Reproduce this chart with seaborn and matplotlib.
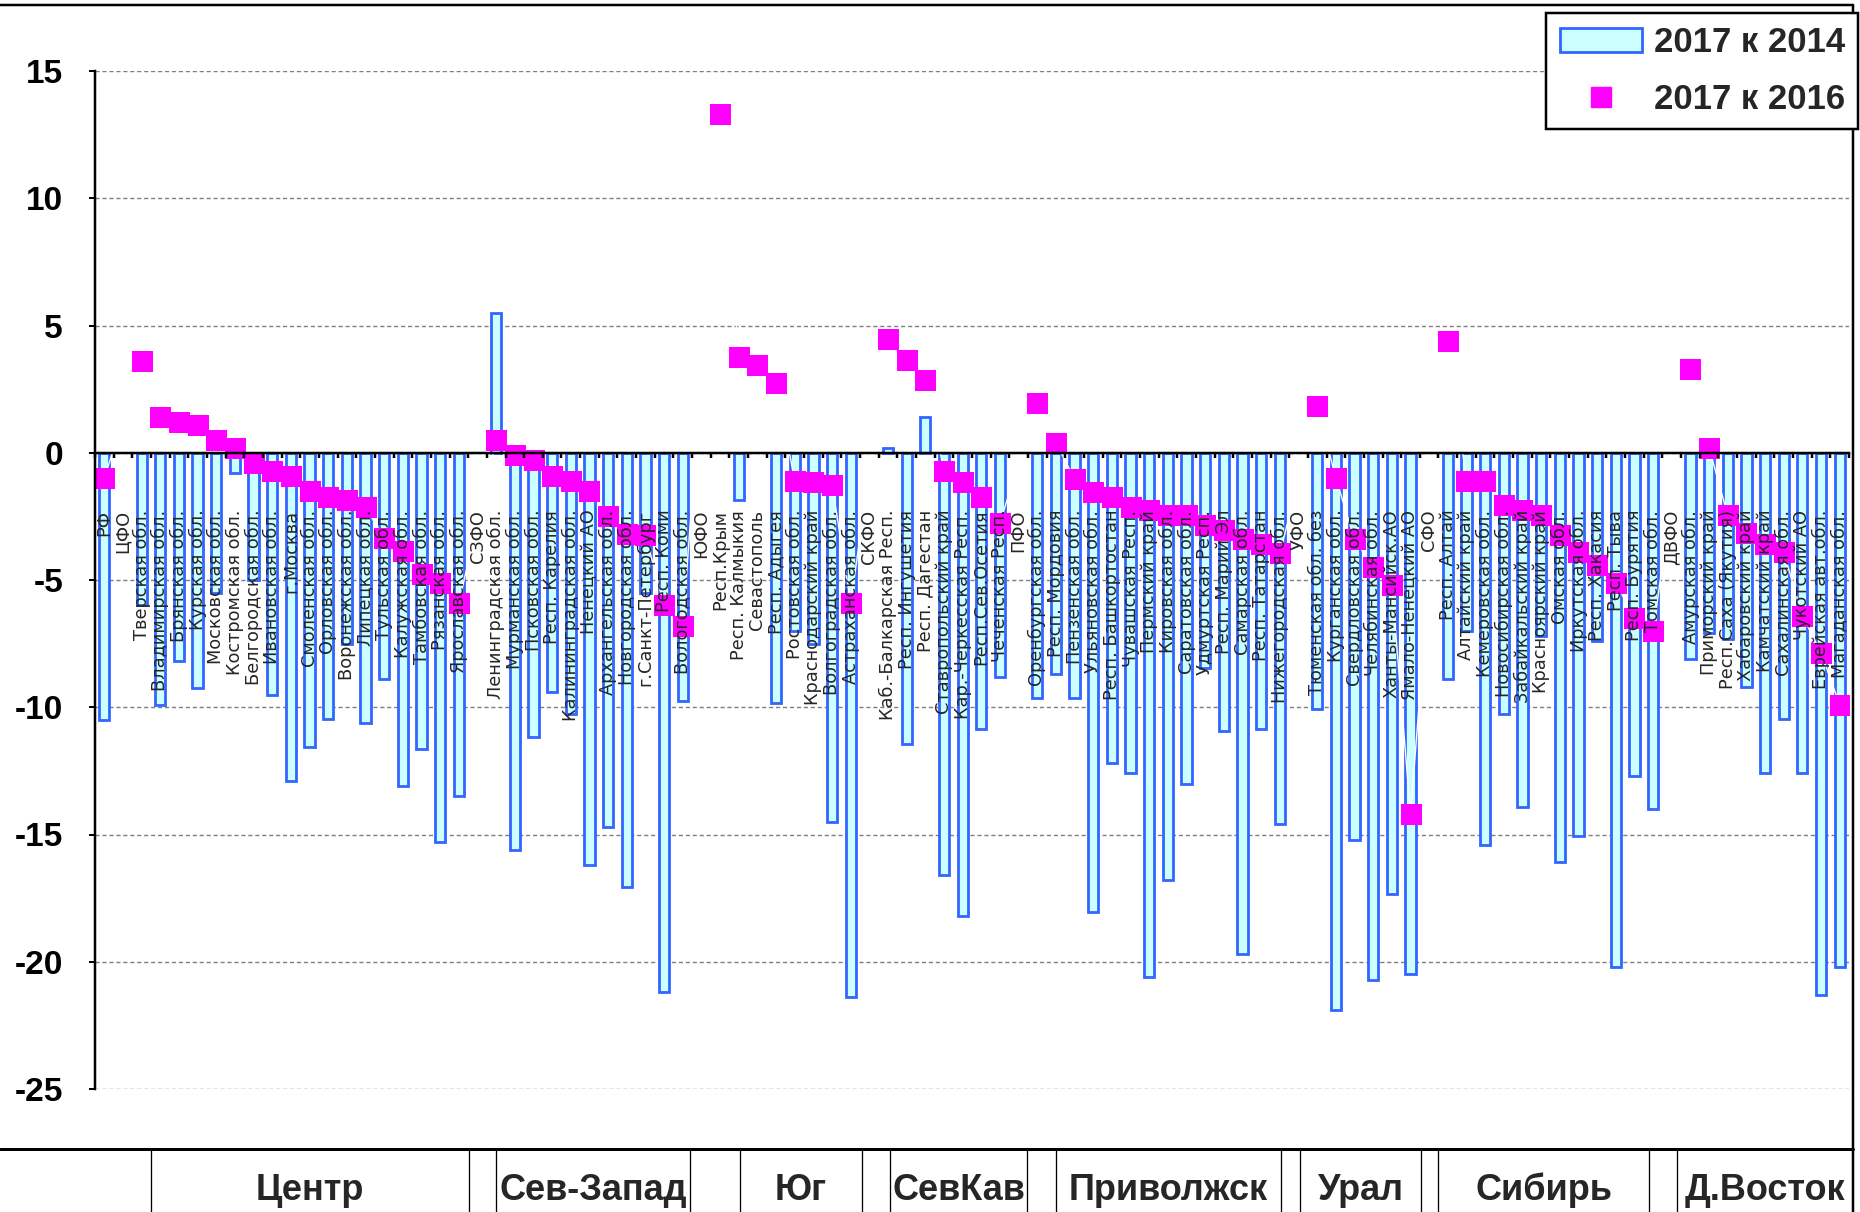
import numpy as np
import pandas as pd
import matplotlib
matplotlib.use("Agg")
import matplotlib.pyplot as plt
import seaborn as sns
from matplotlib.lines import Line2D
from matplotlib.patches import Patch

# ---------------- data ----------------
categories = [
    "РФ", "ЦФО", "Тверская обл.", "Владимирская обл.", "Брянская обл.", "Курская обл.",
    "Московская обл.", "Костромская обл.", "Белгородская обл.", "Ивановская обл.", "г.Москва",
    "Смоленская обл.", "Орловская обл.", "Воронежская обл.", "Липецкая обл.", "Тульская обл.",
    "Калужская обл.", "Тамбовская обл.", "Рязанская обл.", "Ярославская обл.",
    "СЗФО", "Ленинградская обл.", "Мурманская обл.", "Псковская обл.", "Респ. Карелия",
    "Калининградская обл.", "Ненецкий АО", "Архангельская обл.", "Новгородская обл.",
    "г.Санкт-Петербург", "Респ. Коми", "Вологодская обл.",
    "ЮФО", "Респ.Крым", "Респ. Калмыкия", "Севастополь", "Респ. Адыгея", "Ростовская обл.",
    "Краснодарский край", "Волгоградская обл.", "Астраханская обл.",
    "СКФО", "Каб.-Балкарская Респ.", "Респ. Ингушетия", "Респ. Дагестан", "Ставропольский край",
    "Кар.-Черкесская Респ.", "Респ.Сев.Осетия", "Чеченская Респ.",
    "ПФО", "Оренбургская обл.", "Респ. Мордовия", "Пензенская обл.", "Ульяновская обл.",
    "Респ. Башкортостан", "Чувашская Респ.", "Пермский край", "Кировская обл.",
    "Саратовская обл.", "Удмуртская Респ.", "Респ. Марий Эл", "Самарская обл.",
    "Респ. Татарстан", "Нижегородская обл.",
    "УФО", "Тюменская обл. без", "Курганская обл.", "Свердловская обл.", "Челябинская обл.",
    "Ханты-Мансийск.АО", "Ямало-Ненецкий АО",
    "СФО", "Респ. Алтай", "Алтайский край", "Кемеровская обл.", "Новосибирская обл.",
    "Забайкальский край", "Красноярский край", "Омская обл.", "Иркутская обл.",
    "Респ. Хакасия", "Респ. Тыва", "Респ. Бурятия", "Томская обл.",
    "ДВФО", "Амурская обл.", "Приморский край", "Респ.Саха (Якутия)", "Хабаровский край",
    "Камчатский край", "Сахалинская обл.", "Чукотский АО", "Еврейская авт.обл.",
    "Магаданская обл.",
]

nan = np.nan
v2017_2014 = [
    -10.5, nan, -6.0, -9.9, -8.2, -9.25, -5.5, -0.8, -5.0, -9.5, -12.9,
    -11.55, -10.45, -7.5, -10.6, -8.9, -13.1, -11.65, -15.3, -13.5,
    nan, 5.5, -15.6, -11.15, -9.4, -10.25, -16.2, -14.7, -17.05, -5.5, -21.2, -9.75,
    nan, nan, -1.85, nan, -9.85, -7.0, -7.5, -14.5, -21.4,
    nan, 0.2, -11.45, 1.4, -16.6, -18.2, -10.85, -8.8,
    nan, -9.65, -8.7, -9.65, -18.05, -12.2, -12.6, -20.6, -16.8, -13.0, -8.45,
    -10.95, -19.7, -10.85, -14.6,
    nan, -10.05, -21.9, -15.2, -20.7, -17.35, -20.5,
    nan, -8.9, -7.0, -15.4, -10.25, -13.9, -7.2, -16.1, -15.05, -7.4, -20.2, -12.7, -14.0,
    nan, -8.1, -7.1, -7.3, -9.2, -12.6, -10.45, -12.6, -21.3, -20.2,
]

v2017_2016 = [
    -1.0, nan, 3.6, 1.4, 1.2, 1.1, 0.5, 0.2, -0.4, -0.7, -0.9,
    -1.5, -1.75, -1.85, -2.15, -3.35, -3.85, -4.75, -5.1, -5.9,
    nan, 0.5, -0.1, -0.3, -0.9, -1.1, -1.5, -2.5, -3.2, -3.25, -6.0, -6.8,
    nan, 13.3, 3.75, 3.45, 2.75, -1.1, -1.15, -1.25, -5.9,
    nan, 4.45, 3.65, 2.85, -0.7, -1.15, -1.75, -2.75,
    nan, 1.95, 0.4, -1.05, -1.55, -1.75, -2.15, -2.25, -2.45, -2.45, -2.85,
    -3.05, -3.4, -3.6, -3.95,
    nan, 1.85, -1.0, -3.4, -4.5, -5.2, -14.2,
    nan, 4.4, -1.1, -1.1, -2.05, -2.25, -2.45, -3.25, -3.9, -4.4, -5.1, -6.5, -7.0,
    nan, 3.3, 0.2, -2.45, -3.15, -3.6, -3.9, -6.4, -7.85, -9.9,
]

series_names = ["2017 к 2014", "2017 к 2016"]
group_names = ["Центр", "Сев-Запад", "Юг", "СевКав", "Приволжск", "Урал", "Сибирь", "Д.Восток"]
y_ticks = [-25, -20, -15, -10, -5, 0, 5, 10, 15]

# ---------------- style ----------------
sns.set_style("white")
plt.rcParams["font.family"] = ["Liberation Sans", "DejaVu Sans"]
plt.rcParams["axes.unicode_minus"] = False

W, H = 1860, 1212
PX = 72 / 100  # points per pixel at dpi 100

BAR_FACE = "#CCFFFF"
BAR_EDGE = "#3366FF"
MAGENTA = "#FF00FF"

df = pd.DataFrame({"cat": categories, "v14": v2017_2014, "v16": v2017_2016})
df["pos"] = np.arange(len(categories))

fig = plt.figure(figsize=(W / 100, H / 100), dpi=100)
ax_left, ax_right, ax_top, ax_bot = 95, 1849, 71, 1089
ax = fig.add_axes([ax_left / W, 1 - ax_bot / H, (ax_right - ax_left) / W, (ax_bot - ax_top) / H])

# gridlines behind bars
for t in y_ticks:
    ax.axhline(t, color="#7f7f7f", lw=1.0, ls=(0, (3, 2)), zorder=0.3)

sns.barplot(data=df, x="cat", y="v14", order=categories, ax=ax, width=0.55,
            color=BAR_FACE, edgecolor=BAR_EDGE, linewidth=2.8 * PX, errorbar=None,
            saturation=1, zorder=1)
for p in ax.patches:
    p.set_facecolor(BAR_FACE)
    p.set_edgecolor(BAR_EDGE)

sns.lineplot(data=df, x="pos", y="v16", ax=ax, color="white", lw=1.0, sort=False,
             marker="s", markersize=21 * PX, markerfacecolor=MAGENTA,
             markeredgecolor=MAGENTA, markeredgewidth=0, zorder=2)

ax.set_xlim(-0.5, len(categories) - 0.5)
ax.set_ylim(-25, 15)
ax.set_xlabel("")
ax.set_ylabel("")

# spines
for s in ["top", "right"]:
    ax.spines[s].set_visible(False)
ax.spines["left"].set_linewidth(2.5 * PX)
ax.spines["left"].set_color("black")
ax.spines["bottom"].set_position(("data", 0))
ax.spines["bottom"].set_linewidth(2.5 * PX)
ax.spines["bottom"].set_color("black")

# y ticks
ax.set_yticks(y_ticks)
ax.set_yticklabels([str(t) for t in y_ticks], fontsize=24, fontweight="bold",
                   family=["Liberation Sans", "DejaVu Sans"])
ax.tick_params(axis="y", which="major", direction="out", length=6 * PX, width=2 * PX,
               pad=26 * PX, colors="black", left=True)

# x ticks: labels at centres, small ticks at boundaries
ax.set_xticks(np.arange(len(categories)))
ax.set_xticklabels(categories, rotation=90, fontsize=12.8,
                   family=["DejaVu Sans"])
ax.set_xticks(np.arange(len(categories) + 1) - 0.5, minor=True)
ax.tick_params(axis="x", which="major", length=0, pad=57 * PX, bottom=True)
ax.tick_params(axis="x", which="minor", length=5 * PX, width=2.5 * PX, direction="out",
               bottom=True, color="black")
ax.set_axisbelow(False)

# legend
handles = [Patch(facecolor=BAR_FACE, edgecolor=BAR_EDGE, linewidth=2.8 * PX),
           Line2D([], [], marker="s", color="none", markerfacecolor=MAGENTA,
                  markeredgecolor=MAGENTA, markersize=20 * PX)]
leg = fig.legend(handles, series_names, loc="upper right",
                 bbox_to_anchor=(1858 / W, 1 - 13 / H), bbox_transform=fig.transFigure,
                 borderaxespad=0, prop={"family": ["Liberation Sans", "DejaVu Sans"],
                                        "weight": "bold", "size": 25},
                 handlelength=2.36, handleheight=0.7, handletextpad=0.35,
                 borderpad=0.38, labelspacing=0.68, fancybox=False, framealpha=1,
                 edgecolor="black")
leg.get_frame().set_linewidth(2.5 * PX)

# chart border lines (top and right)
lw_border = 2.5 * PX
fig.add_artist(Line2D([0, 1853 / W], [1 - 5 / H] * 2, transform=fig.transFigure,
                      color="black", lw=lw_border))
fig.add_artist(Line2D([1853 / W] * 2, [0, 1 - 5 / H], transform=fig.transFigure,
                      color="black", lw=lw_border))

# bottom group table
table_top = 1149
fig.add_artist(Line2D([0, 1853 / W], [1 - table_top / H] * 2, transform=fig.transFigure,
                      color="black", lw=3 * PX))
dividers = [151, 469, 496, 690, 740, 862, 890, 1027, 1056, 1281, 1300, 1421, 1438, 1649, 1677]
for xd in dividers:
    fig.add_artist(Line2D([xd / W] * 2, [0, 1 - table_top / H], transform=fig.transFigure,
                          color="black", lw=1.3 * PX))
cells = [(151, 469), (496, 690), (740, 862), (890, 1027), (1056, 1281), (1300, 1421),
         (1438, 1649), (1677, 1853)]
for name, (a, b) in zip(group_names, cells):
    fig.text((a + b) / 2 / W, 1 - 1200 / H, name, ha="center", va="baseline",
             fontsize=26, fontweight="bold", family=["Liberation Sans", "DejaVu Sans"])

fig.savefig("out.png", dpi=100, facecolor="white")
